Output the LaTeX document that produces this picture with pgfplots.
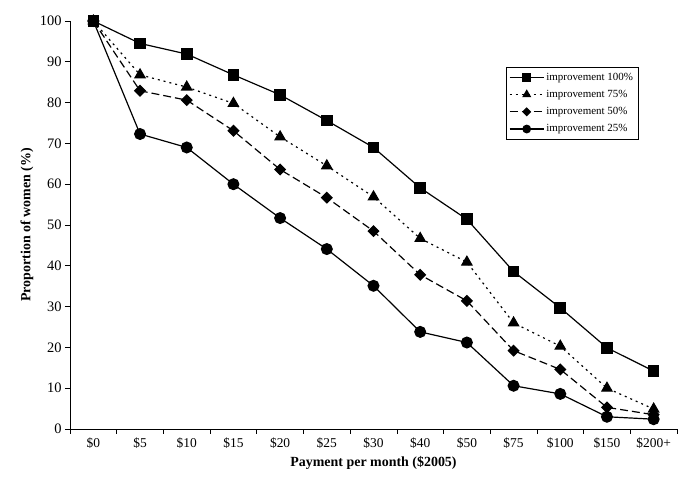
\documentclass[border=0pt]{standalone}
\usepackage{fontspec}
\setmainfont{Liberation Serif}
\usepackage{pgfplots}
\pgfplotsset{compat=1.18}
\usetikzlibrary{calc}

% payment categories: 0=$0 1=$5 2=$10 3=$15 4=$20 5=$25 6=$30 7=$40 8=$50 9=$75 10=$100 11=$150 12=$200+
\pgfplotstableread{
x  p100  p75   p50   p25
0  100   100   100   100
1  94.5  86.8  82.9  72.3
2  91.9  83.8  80.6  69.0
3  86.8  79.8  73.1  60.0
4  81.9  71.6  63.6  51.7
5  75.6  64.5  56.7  44.1
6  69.0  56.9  48.5  35.1
7  59.1  46.7  37.8  23.8
8  51.4  40.9  31.4  21.2
9  38.6  26.0  19.2  10.6
10 29.7  20.3  14.6  8.6
11 19.9  10.0  5.3   3.0
12 14.2  4.9   3.5   2.4
}\data

\begin{document}
\begin{tikzpicture}
\begin{axis}[
  name=ax,
  scale only axis,
  width=607bp, height=408bp,
  xmin=-0.5, xmax=12.5,
  ymin=0, ymax=100,
  axis x line=bottom,
  axis y line=left,
  axis line style={-, line width=0.8pt},
  xtick={0,...,12},
  xticklabels={\$0,\$5,\$10,\$15,\$20,\$25,\$30,\$40,\$50,\$75,\$100,\$150,\$200+},
  major x tick style={draw=none},
  minor xtick={-0.5,0.5,...,12.5},
  ytick={0,10,...,100},
  tick align=outside,
  major tick length=5bp,
  minor tick length=5bp,
  tick style={black, line width=0.6pt},
  xticklabel style={font=\fontsize{13.5}{16}\selectfont},
  yticklabel style={font=\fontsize{14.5}{16}\selectfont},
  /pgf/number format/assume math mode=true,
  xlabel={\textbf{Payment per month (\$2005)}},
  ylabel={\textbf{Proportion of women (\%)}},
  label style={font=\fontsize{14}{16}\selectfont},
  xlabel style={at={(axis description cs:0.5,-0.0833)}, anchor=center},
  ylabel style={at={(axis description cs:-0.0708,0.5)}, anchor=center},
  legend style={
    at={(rel axis cs:0.718,0.887)}, anchor=north west,
    font=\fontsize{11}{13}\selectfont,
    draw=black, line width=0.6pt,
    cells={anchor=west},
    row sep=4.5pt,
    inner ysep=3.5pt,
  },
  legend image code/.code={
    \draw[mark repeat=2, mark phase=2, #1, /tikz/every mark/.append style={scale=0.7}]
      plot coordinates {(0cm,0cm) (0.6cm,0cm) (1.2cm,0cm)};
  },
  every axis plot/.append style={black, line width=1.2pt},
]
\addplot[solid, mark=square*, mark size=5.2bp, mark options={solid}] table[x=x, y=p100] {\data};
\addlegendentry{improvement 100\%}
\addplot[dash pattern=on 2pt off 4pt, mark=triangle*, mark size=5.8bp, mark options={solid}] table[x=x, y=p75] {\data};
\addlegendentry{improvement 75\%}
\addplot[dash pattern=on 8pt off 4pt, mark=square*, mark size=3.7bp, mark options={solid, rotate=45}] table[x=x, y=p50] {\data};
\addlegendentry{improvement 50\%}
\addplot[solid, mark=*, mark size=5.4bp, mark options={solid}] table[x=x, y=p25] {\data};
\addlegendentry{improvement 25\%}
\end{axis}
\pgfresetboundingbox
\path[use as bounding box] ($(ax.south west)+(-70bp,-65bp)$) rectangle ($(ax.north east)+(3bp,21bp)$);
\end{tikzpicture}
\end{document}
